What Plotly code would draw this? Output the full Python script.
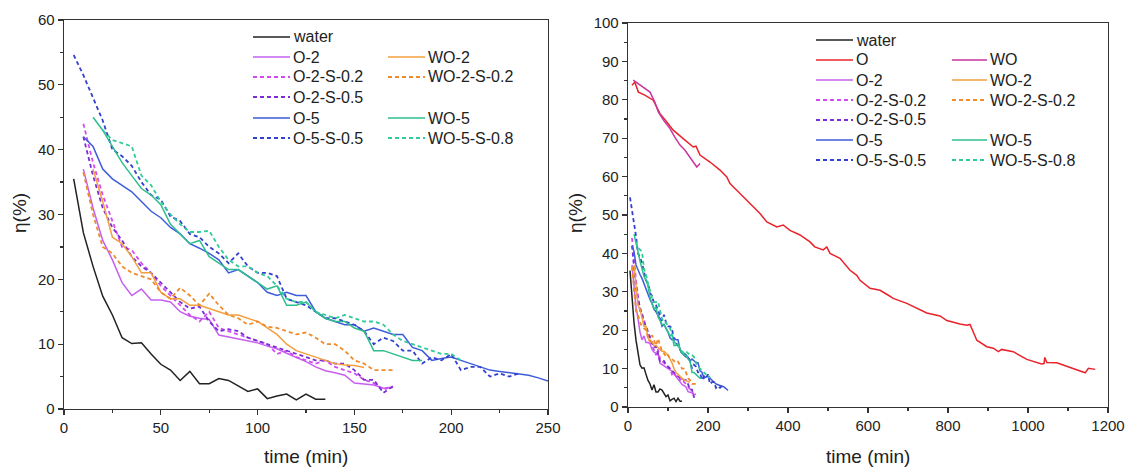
import plotly.graph_objects as go

# ---------------- data ----------------
water_t = [5, 10, 15, 20, 25, 30, 35, 40, 45, 50, 55, 60, 65, 70, 75, 80, 85, 90, 95, 100, 105, 110, 115, 120, 125, 130, 135]
water_y = [35.5, 27.2, 22.0, 17.4, 14.5, 11.0, 10.1, 10.2, 8.5, 6.9, 6.0, 4.4, 5.8, 3.9, 3.9, 4.7, 4.4, 3.6, 2.7, 3.1, 1.6, 2.0, 2.3, 1.4, 2.3, 1.5, 1.5]

t_10_170 = [10, 15, 20, 25, 30, 35, 40, 45, 50, 55, 60, 65, 70, 75, 80, 85, 90, 95, 100, 105, 110, 115, 120, 125, 130, 135, 140, 145, 150, 155, 160, 165, 170]
o2_y = [37.0, 31.0, 26.0, 23.0, 19.5, 17.5, 18.5, 16.8, 16.8, 16.5, 15.0, 14.3, 14.0, 13.8, 11.4, 11.1, 10.8, 10.5, 10.2, 9.7, 9.3, 8.6, 8.0, 7.3, 6.5, 5.9, 5.6, 5.2, 4.0, 3.9, 3.7, 3.2, 3.4]
o2s02_y = [44.0, 38.0, 33.0, 29.0, 25.0, 24.5, 22.5, 21.0, 19.0, 17.5, 16.0, 14.5, 13.5, 15.0, 12.5, 12.0, 11.5, 11.0, 10.5, 10.0, 8.5, 9.0, 8.0, 7.5, 7.0, 7.5, 6.5, 6.0, 5.5, 4.5, 4.0, 3.0, 3.5]
o2s05_y = [42.0, 36.0, 31.0, 28.0, 26.0, 23.5, 22.0, 21.0, 19.5, 18.0, 16.5, 15.5, 15.8, 13.5, 12.0, 12.3, 12.0, 11.0, 10.5, 10.0, 9.5, 9.0, 8.5, 8.0, 7.5, 7.5, 7.0, 7.0, 6.0, 4.5, 4.5, 2.5, 3.5]
wo2s02_y = [36.5, 30.0, 25.0, 24.0, 22.0, 21.0, 20.5, 20.0, 18.0, 17.0, 18.7, 17.5, 16.0, 17.8, 16.0, 14.5, 14.0, 13.0, 13.5, 12.7, 12.5, 12.0, 11.5, 11.8, 11.0, 10.0, 10.0, 9.0, 7.5, 7.0, 6.0, 6.0, 6.0]

wo2_t = [15, 20, 25, 30, 35, 40, 45, 50, 55, 60, 65, 70, 75, 80, 85, 90, 95, 100, 105, 110, 115, 120, 125, 130, 135, 140, 145, 150, 155]
wo2_y = [37.0, 32.0, 26.5, 25.5, 23.5, 21.0, 21.0, 18.0, 17.0, 17.0, 16.0, 16.0, 15.5, 15.0, 14.5, 14.5, 14.0, 13.5, 12.5, 11.5, 10.0, 9.0, 8.5, 8.0, 7.5, 7.0, 6.8, 6.7, 6.4]

o5_t = [10, 15, 20, 25, 30, 35, 40, 45, 50, 55, 60, 65, 70, 75, 80, 85, 90, 95, 100, 105, 110, 115, 120, 125, 130, 135, 140, 145, 150, 155, 160, 165, 170, 175, 180, 185, 190, 195, 200, 205, 210, 215, 220, 225, 230, 235, 240, 245, 250]
o5_y = [42.0, 40.5, 37.0, 35.5, 34.5, 33.5, 32.0, 30.5, 29.5, 28.0, 27.0, 25.5, 24.8, 24.0, 23.0, 21.0, 21.5, 20.5, 19.5, 18.0, 17.5, 18.0, 17.5, 17.5, 15.0, 14.0, 13.5, 13.0, 13.0, 12.0, 12.5, 12.0, 11.5, 11.5, 9.5, 9.0, 7.5, 7.8, 8.0, 7.5, 7.0, 6.5, 6.0, 5.8, 5.6, 5.5, 5.2, 4.8, 4.3]

o5s05_t = [5, 10, 15, 20, 25, 30, 35, 40, 45, 50, 55, 60, 65, 70, 75, 80, 85, 90, 95, 100, 105, 110, 115, 120, 125, 130, 135, 140, 145, 150, 155, 160, 165, 170, 175, 180, 185, 190, 195, 200, 205, 210, 215, 220, 225, 230, 235]
o5s05_y = [54.6, 51.5, 48.0, 44.5, 40.0, 39.0, 37.5, 35.0, 33.0, 32.3, 29.7, 29.0, 27.0, 26.5, 25.0, 24.0, 22.5, 24.0, 22.0, 21.0, 21.0, 20.5, 17.0, 16.5, 16.0, 15.0, 14.0, 14.0, 13.5, 13.0, 12.0, 10.0, 11.0, 10.5, 9.0, 9.0, 7.0, 8.0, 7.5, 8.5, 6.0, 6.5, 6.5, 5.0, 5.5, 5.0, 5.5]

wo5_t = [15, 20, 25, 30, 35, 40, 45, 50, 55, 60, 65, 70, 75, 80, 85, 90, 95, 100, 105, 110, 115, 120, 125, 130, 135, 140, 145, 150, 155, 160, 165, 170, 175, 180, 185]
wo5_y = [45.0, 43.0, 40.5, 38.0, 36.0, 34.0, 33.0, 31.5, 28.5, 27.0, 25.5, 26.0, 23.5, 22.5, 21.5, 21.5, 20.5, 19.5, 18.5, 19.0, 16.0, 16.0, 16.5, 15.0, 14.0, 13.5, 13.5, 12.5, 12.0, 9.0, 9.0, 8.5, 8.0, 7.5, 7.5]

wo5s08_t = [20, 25, 30, 35, 40, 45, 50, 55, 60, 65, 70, 75, 80, 85, 90, 95, 100, 105, 110, 115, 120, 125, 130, 135, 140, 145, 150, 155, 160, 165, 170, 175, 180, 185, 190, 195, 200, 205]
wo5s08_y = [43.0, 41.5, 41.0, 40.5, 36.0, 34.5, 32.0, 30.0, 28.5, 27.3, 27.3, 27.5, 25.0, 23.0, 22.0, 22.0, 21.0, 20.5, 19.0, 17.0, 16.5, 16.5, 15.0, 14.5, 14.0, 14.5, 14.0, 13.5, 13.5, 13.0, 11.5, 10.5, 10.0, 9.5, 9.0, 8.5, 8.5, 7.5]

o_t = [10, 17, 26, 42, 63, 80, 97, 113, 138, 163, 170, 180, 205, 230, 247, 255, 280, 305, 330, 347, 372, 388, 405, 430, 455, 467, 488, 497, 505, 530, 555, 572, 580, 605, 630, 651, 663, 697, 722, 747, 780, 797, 830, 847, 855, 872, 897, 913, 926, 934, 963, 997, 1034, 1040, 1042, 1047, 1072, 1113, 1130, 1143, 1151, 1168]
o_y = [83.8, 84.6, 82.0, 81.2, 79.9, 76.4, 74.2, 72.1, 69.9, 67.7, 67.9, 65.6, 63.8, 61.7, 59.9, 58.2, 55.6, 53.0, 50.4, 48.2, 46.9, 47.4, 46.0, 44.8, 43.0, 41.7, 40.9, 41.7, 40.0, 38.7, 35.6, 34.3, 33.0, 30.9, 30.4, 29.1, 28.3, 27.0, 25.7, 24.5, 23.7, 22.5, 21.6, 21.3, 21.5, 17.4, 15.7, 15.3, 14.4, 15.0, 14.4, 12.4, 11.2, 11.3, 12.9, 11.6, 11.5, 10.1, 9.5, 8.9, 10.1, 9.8]

wo_t = [13, 30, 55, 67, 76, 90, 105, 117, 130, 142, 151, 159, 172, 180]
wo_y = [85.1, 83.8, 82.0, 79.4, 76.8, 74.5, 72.5, 70.3, 68.2, 66.9, 65.6, 64.7, 62.5, 63.4]

# ---------------- styles ----------------
DASH = "4px,3px"
FONT = "Arial, Liberation Sans, sans-serif"
C = {
    "water": "#222222", "O": "#E8232B", "WO": "#C8359F",
    "O-2": "#C560F0", "WO-2": "#F2A03E",
    "O-2-S-0.2": "#D44AF0", "WO-2-S-0.2": "#F08A2A",
    "O-2-S-0.5": "#7A2FD4",
    "O-5": "#3D5BDB", "WO-5": "#2EBE8E",
    "O-5-S-0.5": "#3340D0", "WO-5-S-0.8": "#2FCC9A",
}
DASHED = {"O-2-S-0.2", "WO-2-S-0.2", "O-2-S-0.5", "O-5-S-0.5", "WO-5-S-0.8"}
SOLID_W, DASH_W = 1.5, 1.8

common = [
    ("water", water_t, water_y),
    ("O-2", t_10_170, o2_y),
    ("O-2-S-0.2", t_10_170, o2s02_y),
    ("O-2-S-0.5", t_10_170, o2s05_y),
    ("WO-2", wo2_t, wo2_y),
    ("WO-2-S-0.2", t_10_170, wo2s02_y),
    ("O-5", o5_t, o5_y),
    ("O-5-S-0.5", o5s05_t, o5s05_y),
    ("WO-5", wo5_t, wo5_y),
    ("WO-5-S-0.8", wo5s08_t, wo5s08_y),
]
right_extra = [("O", o_t, o_y), ("WO", wo_t, wo_y)]

fig = go.Figure()

def add(name, t, y, xa, ya):
    dashed = name in DASHED
    fig.add_trace(go.Scatter(
        x=t, y=y, mode="lines", name=name, xaxis=xa, yaxis=ya, showlegend=False,
        line=dict(color=C[name], width=DASH_W if dashed else SOLID_W, dash=DASH if dashed else "solid"),
    ))

for n, t, y in common:
    add(n, t, y, "x", "y")
for n, t, y in right_extra + common:
    add(n, t, y, "x2", "y2")

W, H = 1127, 468
def fx(p): return p / W
def fy(p): return 1 - p / H

axis_style = dict(
    showline=True, linecolor="#333333", linewidth=1.3, mirror=True,
    ticks="outside", ticklen=5, tickwidth=1.2, tickcolor="#333333",
    showgrid=False, zeroline=False, automargin=False,
    tickfont=dict(family=FONT, size=15, color="#222222"),
)

fig.update_layout(
    template="none",
    width=W, height=H, margin=dict(l=0, r=0, t=0, b=0, pad=0, autoexpand=False),
    paper_bgcolor="white", plot_bgcolor="white", showlegend=False,
    xaxis=dict(domain=[fx(64), fx(548)], range=[0, 250], dtick=50, anchor="y",
               minor=dict(dtick=25, ticks="outside", ticklen=3, tickcolor="#333333"), **axis_style),
    yaxis=dict(domain=[fy(409), fy(20)], range=[0, 60], dtick=10, anchor="x",
               minor=dict(dtick=5, ticks="outside", ticklen=3, tickcolor="#333333"), **axis_style),
    xaxis2=dict(domain=[fx(628), fx(1108)], range=[0, 1200], dtick=200, anchor="y2",
                minor=dict(dtick=100, ticks="outside", ticklen=3, tickcolor="#333333"), **axis_style),
    yaxis2=dict(domain=[fy(407), fy(23)], range=[0, 100], dtick=10, anchor="x2",
                minor=dict(dtick=5, ticks="outside", ticklen=3, tickcolor="#333333"), **axis_style),
)

anns = []
shapes = []
title_font = dict(family=FONT, size=19, color="#222222")
for cx in (306, 868):
    anns.append(dict(text="time (min)", x=fx(cx), y=fy(456), xref="paper", yref="paper",
                     showarrow=False, xanchor="center", yanchor="middle", font=title_font))
for cx in (20, 576):
    anns.append(dict(text="η(%)", x=fx(cx), y=fy(213), xref="paper", yref="paper", textangle=-90,
                     showarrow=False, xanchor="center", yanchor="middle", font=title_font))

# manual two-column legends
left_legend = [
    ("water", 0, 37), ("O-2", 0, 57), ("O-2-S-0.2", 0, 77), ("O-2-S-0.5", 0, 97),
    ("O-5", 0, 118), ("O-5-S-0.5", 0, 138),
    ("WO-2", 1, 57), ("WO-2-S-0.2", 1, 77), ("WO-5", 1, 118), ("WO-5-S-0.8", 1, 138),
]
right_legend = [
    ("water", 0, 40), ("O", 0, 60), ("O-2", 0, 80), ("O-2-S-0.2", 0, 100), ("O-2-S-0.5", 0, 120),
    ("O-5", 0, 140), ("O-5-S-0.5", 0, 160),
    ("WO", 1, 60), ("WO-2", 1, 80), ("WO-2-S-0.2", 1, 100), ("WO-5", 1, 140), ("WO-5-S-0.8", 1, 160),
]
def legend(items, cols):
    for name, col, ry in items:
        x0, x1, xt = cols[col]
        dashed = name in DASHED
        shapes.append(dict(type="line", xref="paper", yref="paper", x0=fx(x0), x1=fx(x1), y0=fy(ry), y1=fy(ry),
                           line=dict(color=C[name], width=DASH_W if dashed else SOLID_W,
                                     dash=DASH if dashed else "solid")))
        anns.append(dict(text=name, x=fx(xt), y=fy(ry), xref="paper", yref="paper", showarrow=False,
                         xanchor="left", yanchor="middle", font=dict(family=FONT, size=16, color="#222222")))

legend(left_legend, {0: (253, 290, 291), 1: (388, 425, 426)})
legend(right_legend, {0: (816, 853, 854), 1: (952, 987, 988)})

fig.update_layout(annotations=anns, shapes=shapes)
fig.write_html("out.html", config={"displayModeBar": False, "staticPlot": True},
               post_script="document.body.style.margin='0';document.body.style.overflow='hidden';")
